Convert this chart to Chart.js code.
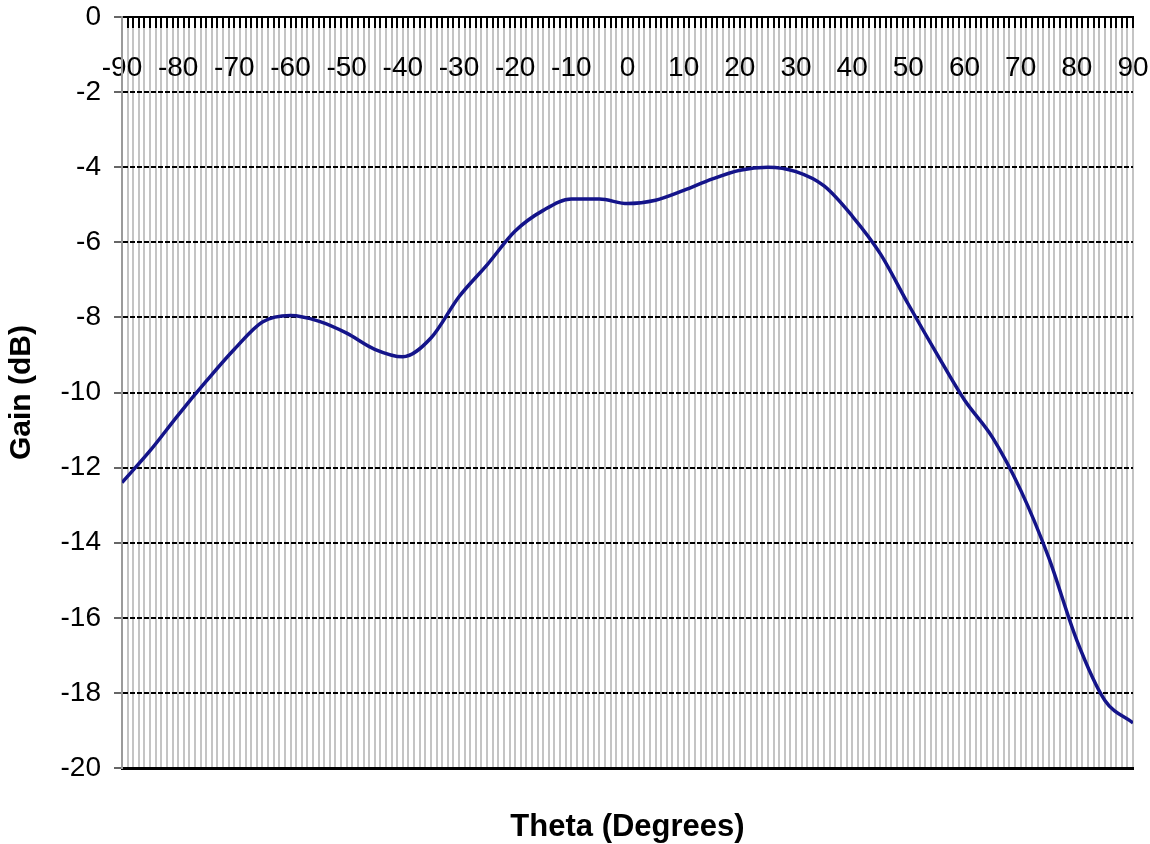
<!DOCTYPE html>
<html>
<head>
<meta charset="utf-8">
<title>Gain vs Theta</title>
<script src="https://cdn.jsdelivr.net/npm/chart.js@4.4.0/dist/chart.umd.min.js"></script>
<style>
  html, body { margin: 0; padding: 0; background: #fff; }
  #wrap { width: 1150px; height: 844px; }
</style>
</head>
<body>
<div id="wrap"><canvas id="gainChart" width="1150" height="844"></canvas></div>
<script>
// values (every 5 degrees)
const thetaDeg = [-90, -85, -80, -75, -70, -65, -60, -55, -50, -45, -40, -35, -30, -25, -20, -15, -10, -5,
  0, 5, 10, 15, 20, 25, 30, 35, 40, 45, 50, 55, 60, 65, 70, 75, 80, 85, 90];
const gainDb = [-12.4, -11.55, -10.6, -9.7, -8.85, -8.12, -7.95, -8.1, -8.42, -8.85, -9.05, -8.55, -7.45, -6.6, -5.7, -5.15, -4.85, -4.85,
  -4.97, -4.88, -4.62, -4.32, -4.08, -4.0, -4.12, -4.5, -5.3, -6.3, -7.65, -8.95, -10.2, -11.2, -12.6, -14.4, -16.6, -18.2, -18.8];

// axis labels
const thetaLabels = [-90, -80, -70, -60, -50, -40, -30, -20, -10, 0, 10, 20, 30, 40, 50, 60, 70, 80, 90];
const gainTicks = [0, -2, -4, -6, -8, -10, -12, -14, -16, -18, -20];

const FONT = "'Liberation Sans', Arial, sans-serif";

// keep label overflow from shrinking the plot area
const noEdgePadding = s => {
  s.paddingTop = 0; s.paddingBottom = 0;
  s.paddingLeft = 0; s.paddingRight = 0;
};

function initChart() {
  const ctx = document.getElementById('gainChart').getContext('2d');
  new Chart(ctx, {
    type: 'line',
    data: {
      datasets: [{
        data: thetaDeg.map((t, i) => ({ x: t, y: gainDb[i] })),
        borderColor: '#14148a',
        borderWidth: 3.5,
        pointRadius: 0,
        cubicInterpolationMode: 'monotone',
        fill: false
      }]
    },
    options: {
      responsive: false,
      animation: false,
      layout: { padding: { top: 17, right: 17, left: 0, bottom: 0 } },
      plugins: { legend: { display: false }, tooltip: { enabled: false } },
      scales: {
        x: {
          type: 'linear',
          min: -90,
          max: 90,
          position: { y: 0 }, // axis crosses at 0 dB (top edge)
          grid: {
            color: '#c4c4c4',
            lineWidth: 2,
            tickColor: '#000',
            tickLength: 10,
            tickWidth: 2
          },
          border: { color: '#000', width: 2 },
          ticks: {
            stepSize: 1,
            autoSkip: false,
            maxRotation: 0,
            padding: 24,
            color: '#000',
            font: { family: FONT, size: 28 },
            callback: v => thetaLabels.includes(v) ? String(v) : ''
          },
          afterFit: noEdgePadding
        },
        x2: {
          type: 'linear',
          min: -90,
          max: 90,
          position: 'bottom',
          grid: { display: false, drawTicks: false },
          border: { color: '#000', width: 3 },
          ticks: { display: false },
          title: {
            display: true,
            text: 'Theta (Degrees)',
            color: '#000',
            font: { family: FONT, size: 31, weight: 'bold', lineHeight: 1 },
            padding: { top: 0, bottom: 1 }
          },
          afterFit: s => { noEdgePadding(s); s.height = 76; }
        },
        y: {
          type: 'linear',
          min: -20,
          max: 0,
          grid: {
            color: '#000',
            lineWidth: 2,
            tickColor: '#666',
            tickLength: 8,
            tickBorderDash: []
          },
          border: { color: '#9a9a9a', width: 2, dash: [5, 2] },
          afterBuildTicks: s => { s.ticks = gainTicks.map(v => ({ value: v })); },
          ticks: {
            padding: 13,
            color: '#000',
            font: { family: FONT, size: 28 }
          },
          title: {
            display: true,
            text: 'Gain (dB)',
            color: '#000',
            font: { family: FONT, size: 30, weight: 'bold', lineHeight: 1 },
            padding: { top: 7, bottom: 0 }
          },
          afterFit: s => { noEdgePadding(s); s.width = 122; }
        }
      }
    }
  });
}

window.onload = initChart;
</script>
</body>
</html>
